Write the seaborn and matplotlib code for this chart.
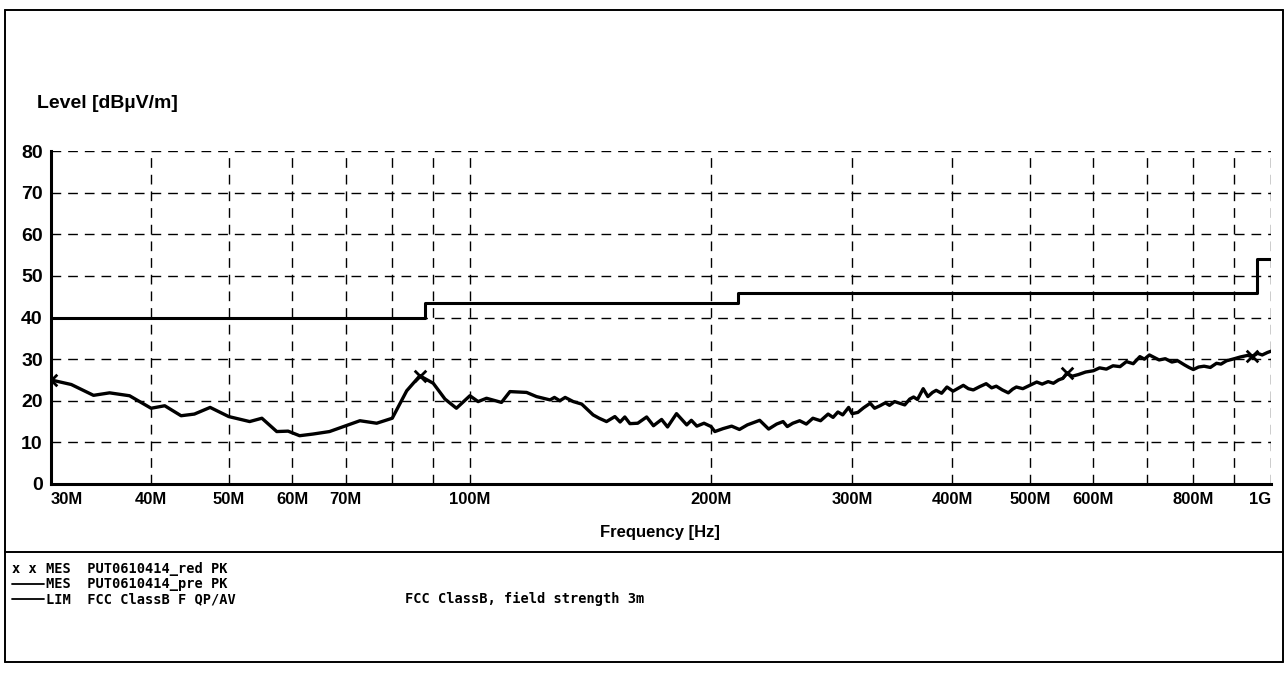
import numpy as np
import pandas as pd
import matplotlib
matplotlib.use("Agg")
import matplotlib.pyplot as plt
from matplotlib.lines import Line2D
from matplotlib.ticker import FixedLocator, FixedFormatter, NullFormatter
import seaborn as sns

# ---------------- data ----------------
freq_mhz = [30.0, 31.8, 33.9, 35.5, 37.6, 40.0, 41.6, 43.6, 45.3, 47.4, 50.0, 53.1, 55.0, 57.4, 59.3,
            61.3, 63.7, 66.8, 70.0, 72.9, 76.5, 80.0, 83.4, 86.6, 90.0, 93.1, 96.2, 100.0, 102.4, 104.9,
            109.5, 112.2, 117.7, 121.1, 125.9, 127.5, 129.5, 131.5, 134.6, 137.9, 142.5, 145.0, 148.1,
            151.7, 154.0, 156.1, 158.4, 162.0, 166.2, 169.5, 173.5, 176.5, 181.1, 186.5, 189.0, 192.0,
            196.0, 200.0, 202.2, 207.0, 212.2, 217.0, 222.0, 230.0, 236.0, 241.5, 246.0, 249.0, 253.0,
            258.0, 263.0, 268.0, 274.0, 280.0, 284.0, 288.0, 292.0, 297.0, 300.0, 305.0, 310.0, 316.0,
            320.0, 325.0, 330.0, 334.0, 339.0, 344.0, 349.0, 354.0, 358.0, 362.0, 365.0, 368.0, 373.0,
            378.0, 382.0, 388.0, 394.0, 401.0, 407.0, 413.0, 419.0, 425.0, 433.0, 441.0, 448.0, 454.0,
            462.0, 470.0, 476.0, 481.0, 490.0, 500.0, 510.0, 518.0, 527.0, 535.0, 543.0, 550.0, 556.0,
            565.0, 575.0, 587.0, 600.0, 611.0, 623.0, 635.0, 648.0, 660.0, 673.0, 686.0, 695.0, 705.0,
            715.0, 725.0, 738.0, 752.0, 765.0, 780.0, 790.0, 800.0, 812.0, 825.0, 840.0, 855.0, 866.0,
            880.0, 900.0, 915.0, 935.0, 948.0, 962.0, 975.0, 990.0, 1000.0]
level_db = [25.0, 23.9, 21.3, 21.9, 21.2, 18.2, 18.8, 16.4, 16.8, 18.4, 16.2, 15.0, 15.8, 12.6, 12.7,
            11.6, 12.0, 12.6, 14.0, 15.2, 14.6, 15.8, 22.4, 26.0, 24.2, 20.4, 18.2, 21.2, 19.8, 20.6,
            19.6, 22.2, 22.0, 21.0, 20.2, 20.8, 20.0, 20.8, 19.8, 19.2, 16.6, 15.8, 15.0,
            16.2, 14.9, 16.1, 14.5, 14.6, 16.1, 14.0, 15.5, 13.7, 16.9, 14.2, 15.3, 13.9,
            14.6, 13.8, 12.6, 13.3, 13.9, 13.1, 14.2, 15.3, 13.2, 14.4, 15.0, 13.8, 14.6,
            15.2, 14.4, 15.8, 15.2, 16.8, 16.0, 17.3, 16.6, 18.4, 16.9, 17.2, 18.3, 19.4,
            18.2, 18.8, 19.5, 18.9, 19.8, 19.4, 19.0, 20.4, 20.9, 20.3, 21.6, 22.9, 21.0,
            22.0, 22.5, 21.8, 23.3, 22.3, 23.0, 23.7, 22.9, 22.6, 23.4, 24.1, 23.1, 23.5,
            22.6, 21.9, 22.8, 23.3, 22.9, 23.7, 24.5, 24.0, 24.6, 24.2, 25.0, 25.4, 26.6,
            25.9, 26.3, 26.9, 27.2, 27.9, 27.6, 28.4, 28.2, 29.4, 28.9, 30.6, 30.0, 31.0,
            30.4, 29.8, 30.1, 29.3, 29.6, 28.6, 28.0, 27.5, 28.1, 28.3, 28.0, 29.0, 28.8,
            29.6, 30.1, 30.5, 30.9, 30.6, 31.4, 31.0, 31.6, 31.9]

limit_f = [30.0, 88.0, 216.0, 960.0, 1000.0]
limit_v = [40.0, 43.5, 46.0, 54.0, 54.0]

marker_f = [30.0, 86.6, 556.0, 948.0]
marker_v = [25.0, 26.0, 26.6, 30.8]

xtick_vals = [30, 40, 50, 60, 70, 100, 200, 300, 400, 500, 600, 800, 1000]
xtick_labels = ["30M", "40M", "50M", "60M", "70M", "100M", "200M", "300M", "400M",
                "500M", "600M", "800M", "1G"]
xminor_vals = [80, 90, 700, 900]
ytick_vals = [0, 10, 20, 30, 40, 50, 60, 70, 80]

legend_rows = ["MES  PUT0610414_red PK", "MES  PUT0610414_pre PK", "LIM  FCC ClassB F QP/AV"]
legend_note = "FCC ClassB, field strength 3m"

# ---------------- style ----------------
sns.set_theme(style="white")
plt.rcParams["font.family"] = ["Liberation Sans", "DejaVu Sans"]

W, H = 1286, 673
fig = plt.figure(figsize=(W / 100, H / 100), dpi=100)
fig.patch.set_facecolor("white")

ax_left, ax_right, ax_top, ax_bot = 51, 1271, 151, 484
ax = fig.add_axes([ax_left / W, 1 - ax_bot / H, (ax_right - ax_left) / W, (ax_bot - ax_top) / H])
ax.set_facecolor("white")

df = pd.DataFrame({"f": freq_mhz, "v": level_db})
dl = pd.DataFrame({"f": limit_f, "v": limit_v})
dm = pd.DataFrame({"f": marker_f, "v": marker_v})

sns.lineplot(data=dl, x="f", y="v", ax=ax, color="black", lw=2.2, drawstyle="steps-post",
             sort=False, zorder=3)
sns.lineplot(data=df, x="f", y="v", ax=ax, color="black", lw=2.4, sort=False, zorder=4)
sns.scatterplot(data=dm, x="f", y="v", ax=ax, marker="x", color="black", s=70, linewidth=2.0,
                zorder=5)

ax.set_xscale("log")
ax.set_xlim(30, 1000)
ax.set_ylim(0, 80)

ax.xaxis.set_major_locator(FixedLocator(xtick_vals))
ax.xaxis.set_major_formatter(FixedFormatter(xtick_labels))
ax.xaxis.set_minor_locator(FixedLocator(xminor_vals))
ax.xaxis.set_minor_formatter(NullFormatter())
ax.yaxis.set_major_locator(FixedLocator(ytick_vals))

ax.tick_params(axis="both", which="both", length=0)
ax.tick_params(axis="x", pad=6, labelsize=12)
ax.tick_params(axis="y", pad=6, labelsize=14)
for lab in ax.get_xticklabels() + ax.get_yticklabels():
    lab.set_fontweight("bold")
    lab.set_color("black")
xl = ax.get_xticklabels()
xl[0].set_horizontalalignment("left")
xl[-1].set_horizontalalignment("right")

ax.grid(True, which="both", axis="x", color="black", lw=1.0, linestyle=(0, (7, 5)))
ax.grid(True, which="major", axis="y", color="black", lw=1.0, linestyle=(0, (7, 5)))
ax.set_axisbelow(True)

for s in ["top", "right"]:
    ax.spines[s].set_visible(False)
for s in ["left", "bottom"]:
    ax.spines[s].set_color("black")
    ax.spines[s].set_linewidth(2.2)
ax.set_xlabel("")
ax.set_ylabel("")

# axis titles
fig.text(37 / W, 1 - 104 / H, "Level [dB\u00b5V/m]", ha="left", va="center",
         fontsize=14, fontweight="bold", color="black")
fig.text(660 / W, 1 - 532 / H, "Frequency [Hz]", ha="center", va="center",
         fontsize=12, fontweight="bold", color="black")

# frame
def fline(x0, y0, x1, y1, lw=1.4):
    fig.add_artist(Line2D([x0 / W, x1 / W], [1 - y0 / H, 1 - y1 / H], color="black", lw=lw))

fline(5, 10, 1283, 10)
fline(5, 10, 5, 662)
fline(1283, 10, 1283, 662)
fline(5, 662, 1283, 662)
fline(5, 552, 1283, 552)

# legend block
mono = dict(family=["DejaVu Sans Mono"], fontsize=9.8, fontweight="bold", color="black",
            va="center", ha="left")
row_y = [569, 584, 599]
fig.text(12 / W, 1 - row_y[0] / H, "x x", **mono)
fline(12, row_y[1], 44, row_y[1], lw=1.3)
fline(12, row_y[2], 44, row_y[2], lw=1.3)
for y, t in zip(row_y, legend_rows):
    fig.text(46 / W, 1 - y / H, t, **mono)
fig.text(405 / W, 1 - row_y[2] / H, legend_note, **mono)

fig.savefig("out.png", dpi=100, facecolor="white")
